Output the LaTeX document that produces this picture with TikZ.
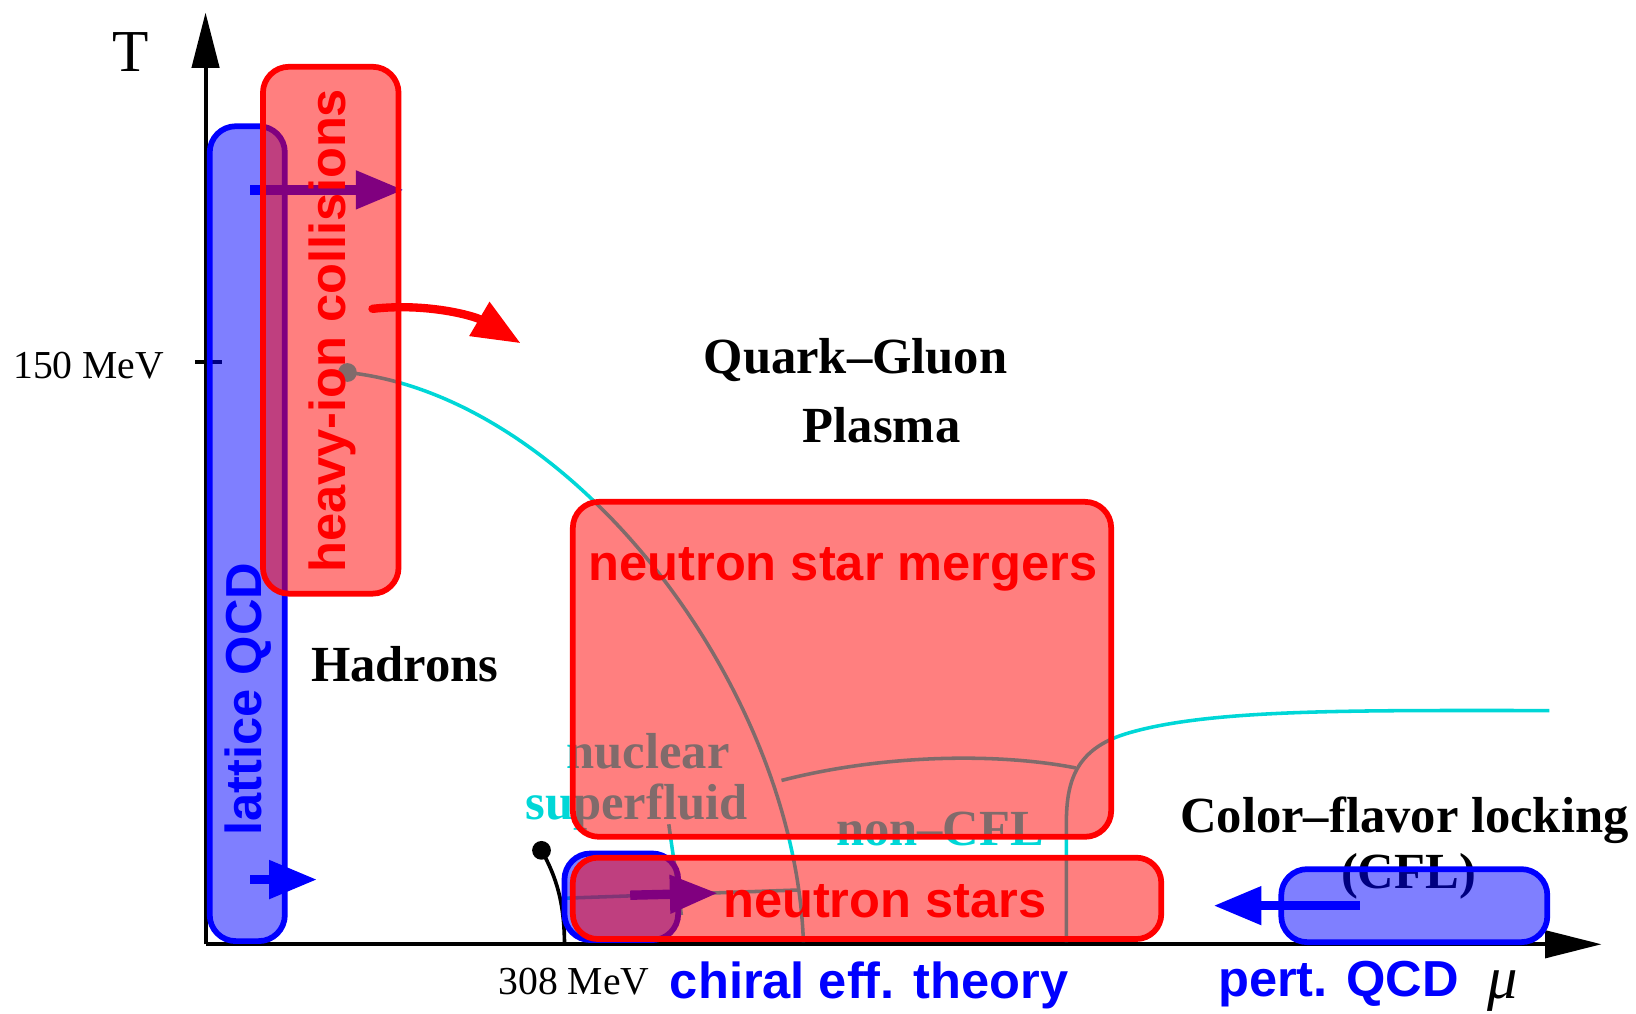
\documentclass[tikz,border=0pt]{standalone}
\usepackage{fontspec}
\setmainfont{Liberation Serif}
\setsansfont{Liberation Sans}
\usetikzlibrary{arrows.meta}
\definecolor{phcyan}{RGB}{0,215,215}
\tikzset{
  redbox/.style={draw=red, line width=5.5pt, fill=red, fill opacity=0.5, rounded corners=25pt},
  bluebox/.style={draw=blue, line width=5.5pt, fill=blue, fill opacity=0.5, rounded corners=25pt},
  phline/.style={draw=phcyan, line width=3.4pt},
  bigarrow/.style={line width=9pt, -{Triangle[length=46pt,width=35pt]}},
  serifbig/.style={font=\fontsize{48.5}{58}\selectfont\bfseries},
  sanslabel/.style={font=\fontsize{48.5}{58}\selectfont\sffamily\bfseries},
  axislabel/.style={font=\fontsize{38}{46}\selectfont},
  axisline/.style={line width=3.8pt},
}
\begin{document}
\begin{tikzpicture}[x=1pt,y=-1pt]
\useasboundingbox (0,0) rectangle (1568,971);
% axes
\coordinate (O) at (197,905);
\coordinate (Ttop) at (197,12);
\coordinate (Mright) at (1535,905);
\draw[axisline, -{Triangle[length=53pt,width=26pt]}] (O) -- (Ttop);
\draw[axisline, -{Triangle[length=54pt,width=26pt]}] (O) -- (Mright);
\coordinate (tickL) at (187,347);
\coordinate (tickR) at (213,347);
\draw[line width=3pt] (tickL) -- (tickR);
\node[font=\fontsize{57}{68}\selectfont, anchor=base] (Tlab) at (125,69) {T};
\node[font=\fontsize{58}{68}\selectfont\itshape, anchor=base] (mulab) at (1440,957) {μ};
\node[axislabel, anchor=base] (t150) at (85,363) {150 MeV};
\node[axislabel, anchor=base] (t308) at (550,953) {308 MeV};
% phase boundaries
\coordinate (cep) at (333,357);
\coordinate (c1end) at (770,903);
\draw[phline] (cep) .. controls (550,380) and (762,660) .. (c1end);
\fill[phcyan] (cep) circle (9);
\coordinate (ja) at (749,748);
\coordinate (jb) at (1031,736);
\draw[phline] (ja) .. controls (850,722) and (960,722) .. (jb);
\coordinate (cA0) at (1022,903);
\coordinate (cA1) at (1022,790);
\coordinate (cA2) at (1080,703);
\coordinate (cA3) at (1485,681);
\draw[phline] (cA0) -- (cA1) .. controls (1022,750) and (1030,718) .. (cA2) .. controls (1160,679) and (1300,681) .. (cA3);
\coordinate (cB0) at (641,790);
\coordinate (cB1) at (653,877);
\draw[phline] (cB0) .. controls (645,820) and (650,850) .. (cB1);
\coordinate (hl0) at (537,861);
\coordinate (hl1) at (765,853);
\draw[phline] (hl0) -- (hl1);
% liquid-gas line
\coordinate (lgdot) at (519,815);
\coordinate (lgend) at (541,905);
\draw[line width=3.5pt] (lgdot) .. controls (533,840) and (541,865) .. (lgend);
\fill (lgdot) circle (9);
% black and cyan texts
\node[serifbig, anchor=base] (qgp1) at (820,358) {Quark--Gluon};
\node[serifbig, anchor=base] (qgp2) at (845,424) {Plasma};
\node[serifbig, anchor=base] (had) at (388,653) {Hadrons};
\node[serifbig, anchor=base, text=phcyan] (nuc1) at (621,737) {nuclear};
\node[serifbig, anchor=base, text=phcyan] (nuc2) at (610,785) {superfluid};
\node[serifbig, anchor=base, text=phcyan] (ncfl) at (901,810) {non--CFL};
\node[serifbig, anchor=base] (cfl1) at (1346,798) {Color--flavor locking};
\node[serifbig, anchor=base] (cfl2) at (1350,852) {(CFL)};
% blue boxes
\draw[bluebox] (201,121) rectangle (273,902);
\draw[bluebox] (1228,833) rectangle (1483,903);
\draw[bluebox] (541,818) rectangle (650,901);
% blue arrows
\coordinate (a1s) at (240,182);
\coordinate (a1e) at (387,182);
\draw[blue, bigarrow] (a1s) -- (a1e);
\coordinate (a2s) at (240,843);
\coordinate (a2e) at (304,843);
\draw[blue, bigarrow] (a2s) -- (a2e);
\coordinate (a3s) at (604,858);
\coordinate (a3e) at (688,856);
\draw[blue, bigarrow] (a3s) -- (a3e);
\coordinate (a4s) at (1303,868);
\coordinate (a4e) at (1163,868);
\draw[blue, bigarrow] (a4s) -- (a4e);
% red boxes
\draw[redbox] (252,64) rectangle (382,569);
\draw[redbox] (549,481) rectangle (1065,802);
\draw[redbox, rounded corners=24pt] (549,822) rectangle (1113,900);
% red curved arrow
\coordinate (ra0) at (357,296);
\coordinate (ra1) at (499,329);
\draw[red, line width=8pt, line cap=round, -{Triangle[length=46pt,width=36pt]}] (ra0) .. controls (410,290) and (455,303) .. (ra1);
% coloured labels
\node[sanslabel, text=blue, rotate=90] (lqcd) at (238,670) {lattice QCD};
\node[sanslabel, text=red, rotate=90] (hic) at (319,317) {heavy-ion collisions};
\node[sanslabel, text=red, anchor=base] (nsm) at (808,556) {neutron star mergers};
\node[sanslabel, text=red, anchor=base] (ns) at (848,879) {neutron stars};
\node[sanslabel, text=blue, anchor=base] (chi) at (833,957) {chiral eff. theory};
\node[sanslabel, text=blue, anchor=base] (pqcd) at (1283,955) {pert. QCD};
\end{tikzpicture}
\end{document}
